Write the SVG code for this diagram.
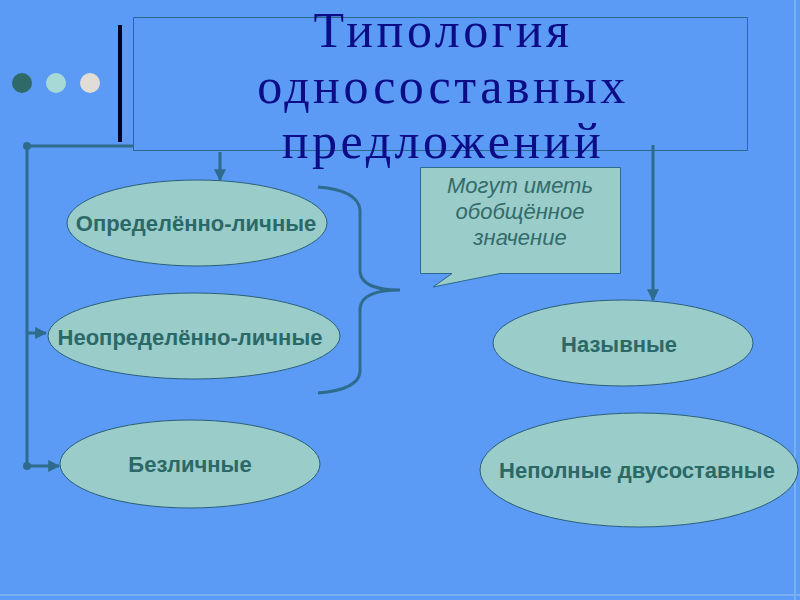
<svg xmlns="http://www.w3.org/2000/svg" width="800" height="600" viewBox="0 0 800 600">
<defs>
<marker id="arr" viewBox="0 0 10 10" refX="9" refY="5" markerWidth="4" markerHeight="4" orient="auto" markerUnits="strokeWidth">
<path d="M0,0 L10,5 L0,10 z" fill="#2e6b8c"/>
</marker>
<style>
.node ellipse{fill:#9accc9;stroke:#2a5f7a;stroke-width:1}
.lbl{font-family:"Liberation Sans",Arial,sans-serif;font-weight:bold;font-size:22px;fill:#2b6868;text-anchor:middle}
.title{font-family:"Liberation Serif","Times New Roman",serif;font-size:50px;letter-spacing:3.5px;fill:#0c0c86;text-anchor:middle}
.note{font-family:"Liberation Sans",Arial,sans-serif;font-style:italic;font-size:22px;fill:#336b6b;text-anchor:middle}
.conn{stroke:#2e6b8c;stroke-width:3;fill:none}
</style>
</defs>
<rect x="0" y="0" width="800" height="600" fill="#5b9bf5"/>
<line x1="795" y1="0" x2="795" y2="600" stroke="#78b0f0" stroke-width="2"/>
<line x1="0" y1="595" x2="800" y2="595" stroke="#78b0f0" stroke-width="2"/>

<g id="decor">
<circle cx="22" cy="83" r="10" fill="#2f6a68"/>
<circle cx="56" cy="83" r="10" fill="#a7d9d6"/>
<circle cx="90" cy="83" r="10" fill="#e2dcd6"/>
<rect x="118" y="25" width="4" height="117" fill="#000022"/>
</g>

<g id="title">
<rect x="133.5" y="17.5" width="614" height="133" fill="none" stroke="#2b6a8c" stroke-width="1"/>
<text class="title" x="443" y="47">Типология</text>
<text class="title" x="443" y="103">односоставных</text>
<text class="title" x="443" y="158">предложений</text>
</g>

<g id="connectors">
<polyline class="conn" points="133,146 27,146 27,466"/>
<circle cx="27" cy="146" r="4" fill="#2e6b8c"/>
<circle cx="27" cy="466" r="4" fill="#2e6b8c"/>
<line class="conn" x1="27" y1="333" x2="46" y2="333" marker-end="url(#arr)"/>
<line class="conn" x1="27" y1="466" x2="59" y2="466" marker-end="url(#arr)"/>
<line class="conn" x1="220" y1="152" x2="220" y2="180" marker-end="url(#arr)"/>
<line class="conn" x1="653" y1="145" x2="653" y2="300" marker-end="url(#arr)"/>
<path class="conn" stroke-width="4" d="M318,187 Q358,190 360,210 L360,272 Q362,290 400,290 Q362,290 360,308 L360,372 Q358,390 318,393"/>
</g>

<g id="callout">
<path d="M420.5,167.5 H620.5 V273.5 H500 L433,287 L452,273.5 H420.5 Z" fill="#9accc9" stroke="#2b6a8c" stroke-width="1"/>
<text class="note" x="520" y="193">Могут иметь</text>
<text class="note" x="520" y="219">обобщённое</text>
<text class="note" x="520" y="245">значение</text>
</g>

<g id="n1" class="node">
<ellipse cx="197" cy="223" rx="130" ry="43"/>
<text class="lbl" x="196" y="231">Определённо-личные</text>
</g>
<g id="n2" class="node">
<ellipse cx="194" cy="336" rx="146" ry="43"/>
<text class="lbl" x="190" y="345">Неопределённо-личные</text>
</g>
<g id="n3" class="node">
<ellipse cx="190" cy="464" rx="130" ry="44"/>
<text class="lbl" x="190" y="472">Безличные</text>
</g>
<g id="n4" class="node">
<ellipse cx="623" cy="343" rx="130" ry="43"/>
<text class="lbl" x="619" y="352">Назывные</text>
</g>
<g id="n5" class="node">
<ellipse cx="639" cy="470" rx="159" ry="57"/>
<text class="lbl" x="637" y="478">Неполные двусоставные</text>
</g>
</svg>
